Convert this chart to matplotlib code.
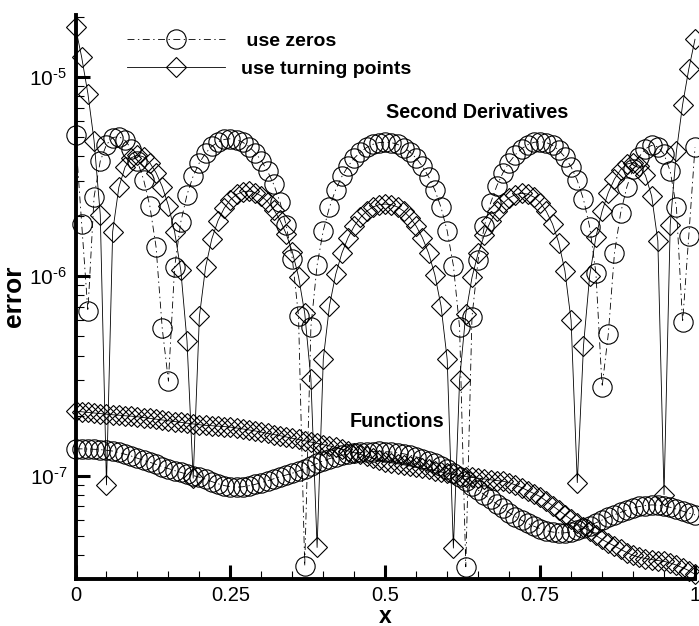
import numpy as np
import matplotlib
matplotlib.use('Agg')
import matplotlib.pyplot as plt
from matplotlib.ticker import LogLocator, MultipleLocator, FixedLocator, NullFormatter, FuncFormatter

plt.rcParams['font.family'] = ['Liberation Sans', 'DejaVu Sans']
plt.rcParams['mathtext.fontset'] = 'custom'
plt.rcParams['mathtext.rm'] = 'Liberation Sans'
plt.rcParams['mathtext.it'] = 'Liberation Sans:italic'
plt.rcParams['mathtext.bf'] = 'Liberation Sans:bold'
plt.rcParams['lines.scale_dashes'] = False
plt.rcParams['axes.unicode_minus'] = False

# sample positions
x = np.linspace(0.0, 1.0, 101)

# second-derivative error, interpolation at zeros (units of 1e-6)
deriv_zeros = [
    5.08, 1.827, 0.667, 2.503, 3.776, 4.568, 4.957, 5.010, 4.793, 4.359,
    3.762, 3.044, 2.247, 1.405, 0.548, 0.2976, 1.109, 1.870, 2.563, 3.178,
    3.705, 4.139, 4.474, 4.711, 4.848, 4.888, 4.834, 4.692, 4.466, 4.164,
    3.794, 3.364, 2.883, 2.360, 1.804, 1.225, 0.632, 0.0352, 0.5573, 1.1365,
    1.694, 2.222, 2.714, 3.162, 3.562, 3.907, 4.194, 4.419, 4.580, 4.674,
    4.700,
    4.674, 4.579, 4.417, 4.191, 3.902, 3.555, 3.154, 2.705, 2.213, 1.685,
    1.1293, 0.5531, 0.0349, 0.6256, 1.2107, 1.780, 2.325, 2.835, 3.301, 3.715,
    4.069, 4.353, 4.563, 4.689, 4.729, 4.677, 4.532, 4.291, 3.958, 3.532,
    3.019, 2.427, 1.764, 1.042, 0.2786, 0.5111, 1.305, 2.078, 2.803, 3.449,
    3.978, 4.353, 4.529, 4.458, 4.087, 3.361, 2.215, 0.5871, 1.599, 4.420]

# second-derivative error, interpolation at turning points (units of 1e-6)
deriv_turning = [
    17.71, 12.51, 8.235, 4.776, 2.031, 0.0898, 1.673, 2.793, 3.521, 3.922,
    4.051, 3.961, 3.699, 3.304, 2.814, 2.260, 1.670, 1.068, 0.4731, 0.0971,
    0.629, 1.112, 1.537, 1.898, 2.191, 2.415, 2.569, 2.653, 2.671, 2.626,
    2.522, 2.364, 2.159, 1.913, 1.632, 1.323, 0.995, 0.6527, 0.3043, 0.0436,
    0.3845, 0.7123, 1.021, 1.306, 1.561, 1.784, 1.970, 2.116, 2.221, 2.283,
    2.300,
    2.283, 2.221, 2.115, 1.968, 1.782, 1.558, 1.303, 1.018, 0.7093, 0.3825,
    0.0433, 0.3020, 0.6470, 0.9849, 1.3075, 1.610, 1.884, 2.123, 2.320, 2.470,
    2.566, 2.604, 2.580, 2.492, 2.337, 2.114, 1.826, 1.474, 1.063, 0.5996,
    0.0922, 0.4479, 1.0075, 1.570, 2.116, 2.624, 3.069, 3.421, 3.648, 3.714,
    3.579, 3.198, 2.525, 1.5045, 0.0803, 1.8076, 4.227, 7.248, 10.947, 15.41]

# function error (log10), interpolation at zeros
func_zeros_log10 = [
    -6.866, -6.866, -6.867, -6.868, -6.870, -6.873, -6.877, -6.884, -6.893, -6.902,
    -6.913, -6.923, -6.933, -6.944, -6.955, -6.965, -6.975, -6.984, -6.993, -7.000,
    -7.008, -7.018, -7.030, -7.041, -7.050, -7.056, -7.058, -7.056, -7.051, -7.044,
    -7.035, -7.026, -7.016, -7.006, -6.997, -6.988, -6.977, -6.965, -6.952, -6.939,
    -6.926, -6.915, -6.905, -6.898, -6.892, -6.887, -6.884, -6.881, -6.880, -6.879,
    -6.880, -6.882, -6.886, -6.891, -6.898, -6.906, -6.915, -6.926, -6.937, -6.950,
    -6.965, -6.985, -7.006, -7.028, -7.050, -7.073, -7.096, -7.119, -7.142, -7.164,
    -7.186, -7.206, -7.224, -7.240, -7.254, -7.266, -7.276, -7.283, -7.287, -7.287,
    -7.283, -7.275, -7.264, -7.251, -7.237, -7.223, -7.209, -7.196, -7.184, -7.173,
    -7.163, -7.155, -7.150, -7.147, -7.148, -7.152, -7.159, -7.168, -7.178, -7.188,
    -7.197]

# function error (log10), interpolation at turning points
func_turning_log10 = [
    -6.678, -6.680, -6.683, -6.686, -6.689, -6.692, -6.695, -6.697, -6.700, -6.702,
    -6.705, -6.709, -6.713, -6.717, -6.721, -6.725, -6.729, -6.733, -6.737, -6.741,
    -6.745, -6.748, -6.750, -6.752, -6.754, -6.757, -6.761, -6.766, -6.771, -6.776,
    -6.782, -6.788, -6.794, -6.800, -6.806, -6.813, -6.819, -6.825, -6.832, -6.838,
    -6.845, -6.851, -6.858, -6.867, -6.876, -6.885, -6.894, -6.903, -6.912, -6.921,
    -6.930, -6.936, -6.941, -6.946, -6.952, -6.957, -6.963, -6.969, -6.975, -6.982,
    -6.988, -6.994, -7.000, -7.005, -7.009, -7.013, -7.017, -7.021, -7.025, -7.028,
    -7.035, -7.047, -7.060, -7.075, -7.090, -7.105, -7.128, -7.151, -7.174, -7.197,
    -7.220, -7.240, -7.260, -7.280, -7.300, -7.320, -7.337, -7.353, -7.370, -7.386,
    -7.400, -7.409, -7.416, -7.421, -7.426, -7.430, -7.438, -7.449, -7.462, -7.476,
    -7.495]

x_ticks = [0, 0.25, 0.5, 0.75, 1]
x_tick_labels = ['0', '0.25', '0.5', '0.75', '1']
legend_labels = [' use zeros', 'use turning points']

W, H = 699, 626
fig = plt.figure(figsize=(W / 100, H / 100), dpi=100)
ax = fig.add_axes([75.5 / W, (H - 579) / H, 619.5 / W, 564 / H])

dz = np.array(deriv_zeros) * 1e-6
dt = np.array(deriv_turning) * 1e-6
fz = 10.0 ** np.array(func_zeros_log10)
ft = 10.0 ** np.array(func_turning_log10)

dashdot = (0, (5, 2.5, 1, 2.5))
common = dict(color='black', lw=0.6, mfc='none', mec='black', mew=0.8, clip_on=False)
h1, = ax.plot(x, dz, marker='o', ms=13.9, linestyle=dashdot, **common)
h2, = ax.plot(x, dt, marker='D', ms=10.0, linestyle='-', **common)
ax.plot(x, fz, marker='o', ms=13.9, linestyle=dashdot, **common)
ax.plot(x, ft, marker='D', ms=10.0, linestyle='-', **common)

ax.set_xlim(0, 1)
ax.set_yscale('log')
ax.set_ylim(3.03e-8, 2.04e-5)


def log_label(v, pos):
    e = int(round(np.log10(v)))
    sign = r'\text{-}' if e < 0 else ''
    return r'$10^{%s%d}$' % (sign, abs(e))


ax.xaxis.set_major_locator(FixedLocator(x_ticks))
ax.set_xticklabels(x_tick_labels)
ax.xaxis.set_minor_locator(MultipleLocator(0.05))
ax.yaxis.set_major_locator(LogLocator(base=10, numticks=20))
ax.yaxis.set_major_formatter(FuncFormatter(log_label))
ax.yaxis.set_minor_locator(LogLocator(base=10, subs=np.arange(2, 10), numticks=20))
ax.yaxis.set_minor_formatter(NullFormatter())

for s in ['top', 'right']:
    ax.spines[s].set_visible(False)
for s in ['left', 'bottom']:
    ax.spines[s].set_linewidth(2.8)

ax.tick_params(which='major', direction='in', length=10, width=2.2, top=False, right=False)
ax.tick_params(which='minor', direction='in', length=6, width=0.8, top=False, right=False)
ax.tick_params(axis='x', which='major', labelsize=14.5, pad=5)
ax.tick_params(axis='y', which='major', labelsize=15, pad=6)

ax.set_xlabel('x', fontweight='bold', fontsize=16.5)
ax.xaxis.set_label_coords(0.5, (579 - 623) / 564)
ax.xaxis.label.set_va('baseline')
ax.set_ylabel('error', fontweight='bold', fontsize=19)
ax.yaxis.set_label_coords((14 - 75.5) / 619.5, (579 - 296) / 564)
ax.yaxis.label.set_va('center')

ax.text(0.502, 6.58e-6, 'Second Derivatives', fontweight='bold', fontsize=14.2,
        ha='left', va='center')
ax.text(0.4427, 1.858e-7, 'Functions', fontweight='bold', fontsize=14.2,
        ha='left', va='center')

fig.legend([h1, h2], legend_labels, loc='upper left',
           bbox_to_anchor=(127 / W, 1 - 32 / H), bbox_transform=fig.transFigure,
           frameon=False, borderpad=0, borderaxespad=0, handlelength=5.04,
           handletextpad=0.82, labelspacing=0.56, numpoints=1,
           prop=dict(weight='bold', size=14))

fig.savefig('out.png', dpi=100)
